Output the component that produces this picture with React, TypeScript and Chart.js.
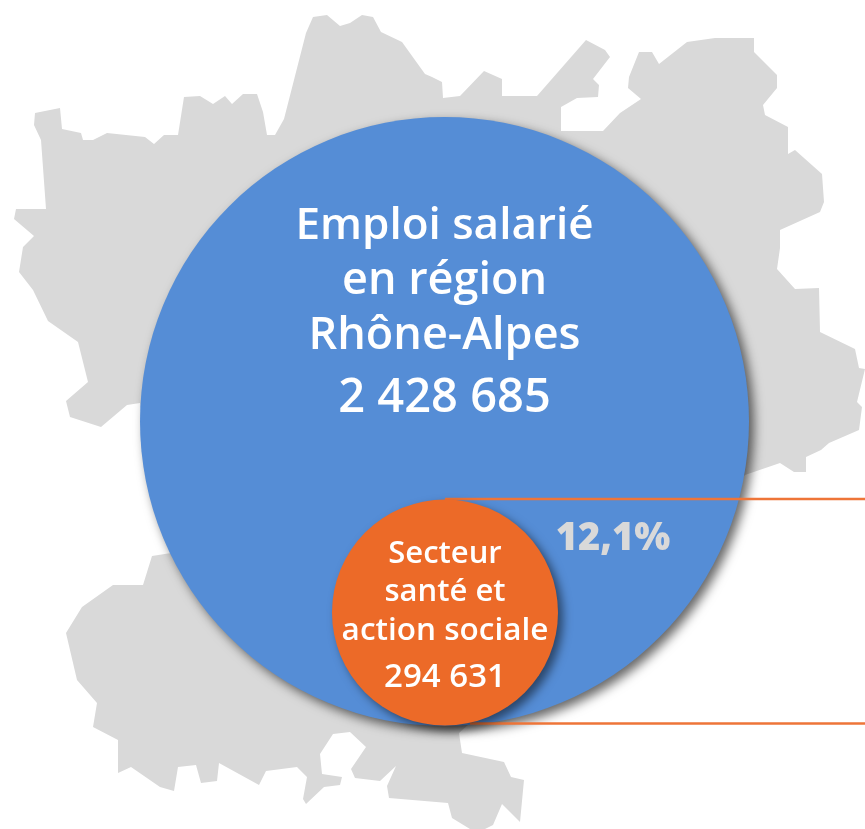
import React, { useEffect, useRef } from "react";
import { Chart, registerables } from "chart.js";

Chart.register(...registerables);

// Regional outline
const mapX = [35,60,62,81,83,93,107,145,154,164,178,184,200,213,225,232,243,257,263,267,275,284,306,313,327,340,350,362,373,381,402,425,432,442,443,460,484,502,502,537,586,605,610,593,599,598,577,561,561,603,620,641,628,629,639,652,659,687,715,754,754,777,777,763,765,788,788,795,822,824,820,780,780,777,795,819,820,855,859,865,857,862,859,829,821,806,806,794,780,745,459,462,504,511,524,520,502,493,485,470,452,448,389,387,396,380,355,351,366,350,333,320,322,342,340,324,306,303,307,297,266,259,219,217,201,196,178,174,160,131,118,118,93,97,77,66,82,113,143,152,171,140,127,101,70,66,88,78,48,33,19,23,34,14,16,46,41,34];
const mapY = [113,108,129,133,140,140,133,137,144,135,135,97,96,104,96,104,94,94,112,135,135,119,33,17,15,26,23,15,17,32,42,74,77,82,98,96,71,79,96,96,40,50,57,79,85,97,98,107,131,131,113,99,88,77,52,52,64,42,38,38,52,75,88,105,115,127,154,150,174,202,212,230,248,269,289,288,332,349,368,369,402,407,430,443,450,457,472,472,463,475,733,753,762,777,780,822,804,825,829,829,818,803,798,786,766,781,778,769,747,732,734,754,774,777,785,787,804,799,777,767,771,785,763,781,783,765,767,791,787,767,773,740,727,703,680,633,607,585,585,556,553,403,405,427,417,401,382,342,321,290,272,247,236,219,209,209,140,125];

// Circles
const categories = ["Emploi salarié en région Rhône-Alpes", "Secteur santé et action sociale"];
const employment = [2428685, 294631];
const circleX = [444.5, 445];
const circleY = [421.5, 612.5];
const circleR = [304.5, 113];

// Leader lines
const leaderTopX = [445, 865];
const leaderTopY = [499, 499];
const leaderBottomX = [470, 865];
const leaderBottomY = [723.5, 723.5];

// Labels
const mainLabels = ["Emploi salarié", "en région", "Rhône-Alpes", "2 428 685"];
const mainBaselines = [239, 294, 349, 412];
const mainSizes = [44, 45, 45, 47];
const sectorLabels = ["Secteur", "santé et", "action sociale", "294 631"];
const sectorBaselines = [563, 601, 640, 687];
const sectorSizes = [31, 31, 31.5, 33];
const shareLabel = "12,1%";

const FONT = '"Open Sans", "Noto Sans", sans-serif';

const shadowPlugin = {
  id: "softShadow",
  beforeDatasetDraw(chart: any, args: any) {
    const s = chart.data.datasets[args.index].softShadow;
    if (!s) return;
    const c = chart.ctx;
    c.save();
    c.shadowColor = s.color;
    c.shadowBlur = s.blur;
    c.shadowOffsetX = s.dx;
    c.shadowOffsetY = s.dy;
  },
  afterDatasetDraw(chart: any, args: any) {
    if (chart.data.datasets[args.index].softShadow) chart.ctx.restore();
  },
};

const labelPlugin = {
  id: "labels",
  afterDraw(chart: any) {
    const c = chart.ctx;
    const xs = chart.scales.x;
    const ys = chart.scales.y;
    c.save();
    c.textAlign = "center";
    c.textBaseline = "alphabetic";
    c.fillStyle = "#ffffff";
    mainLabels.forEach((t, i) => {
      c.font = `600 ${mainSizes[i]}px ${FONT}`;
      c.fillText(t, xs.getPixelForValue(circleX[0]), ys.getPixelForValue(mainBaselines[i]));
    });
    sectorLabels.forEach((t, i) => {
      c.font = `600 ${sectorSizes[i]}px ${FONT}`;
      c.fillText(t, xs.getPixelForValue(circleX[1]), ys.getPixelForValue(sectorBaselines[i]));
    });
    c.fillStyle = "#D9D9D9";
    c.font = `800 38px ${FONT}`;
    c.fillText(shareLabel, xs.getPixelForValue(613), ys.getPixelForValue(550));
    c.restore();
  },
};

export default function App() {
  const ref = useRef<HTMLCanvasElement | null>(null);

  useEffect(() => {
    if (!ref.current) return;
    const toPoints = (xs: number[], ys: number[]) => xs.map((x, i) => ({ x, y: ys[i] }));
    const leader = (xs: number[], ys: number[]) => ({
      type: "scatter",
      label: "leader",
      data: toPoints(xs, ys),
      showLine: true,
      borderColor: "#EE7538",
      borderWidth: 2.5,
      pointRadius: 0,
      fill: false,
      order: 2,
    });
    const chart = new Chart(ref.current, {
      type: "bubble",
      data: {
        datasets: [
          {
            type: "bubble",
            label: categories[1],
            data: [{ x: circleX[1], y: circleY[1], r: circleR[1], value: employment[1] }],
            backgroundColor: "#EC6A28",
            borderWidth: 0,
            order: 1,
            softShadow: { color: "rgba(0,0,0,0.5)", blur: 10, dx: 5, dy: 5 },
          },
          leader(leaderTopX, leaderTopY),
          leader(leaderBottomX, leaderBottomY),
          {
            type: "bubble",
            label: categories[0],
            data: [{ x: circleX[0], y: circleY[0], r: circleR[0], value: employment[0] }],
            backgroundColor: "#558DD6",
            borderWidth: 0,
            order: 3,
            softShadow: { color: "rgba(0,0,0,0.6)", blur: 11, dx: 5, dy: 5 },
          },
          {
            type: "scatter",
            label: "Rhône-Alpes",
            data: toPoints(mapX, mapY),
            showLine: true,
            tension: 0,
            fill: "shape",
            backgroundColor: "#D9D9D9",
            borderColor: "#D9D9D9",
            borderWidth: 0,
            pointRadius: 0,
            order: 4,
          },
        ],
      } as any,
      options: {
        animation: false,
        responsive: false,
        events: [],
        layout: { padding: 0, autoPadding: false },
        plugins: { legend: { display: false }, tooltip: { enabled: false }, title: { display: false } },
        scales: {
          x: { type: "linear", min: 0, max: 865, display: false },
          y: { type: "linear", min: 0, max: 829, reverse: true, display: false },
        },
      },
      plugins: [shadowPlugin, labelPlugin],
    } as any);
    return () => chart.destroy();
  }, []);

  return (
    <div style={{ position: "fixed", left: 0, top: 0, width: 865, height: 829, background: "#fff" }}>
      <canvas ref={ref} width={865} height={829} style={{ display: "block" }} />
    </div>
  );
}
